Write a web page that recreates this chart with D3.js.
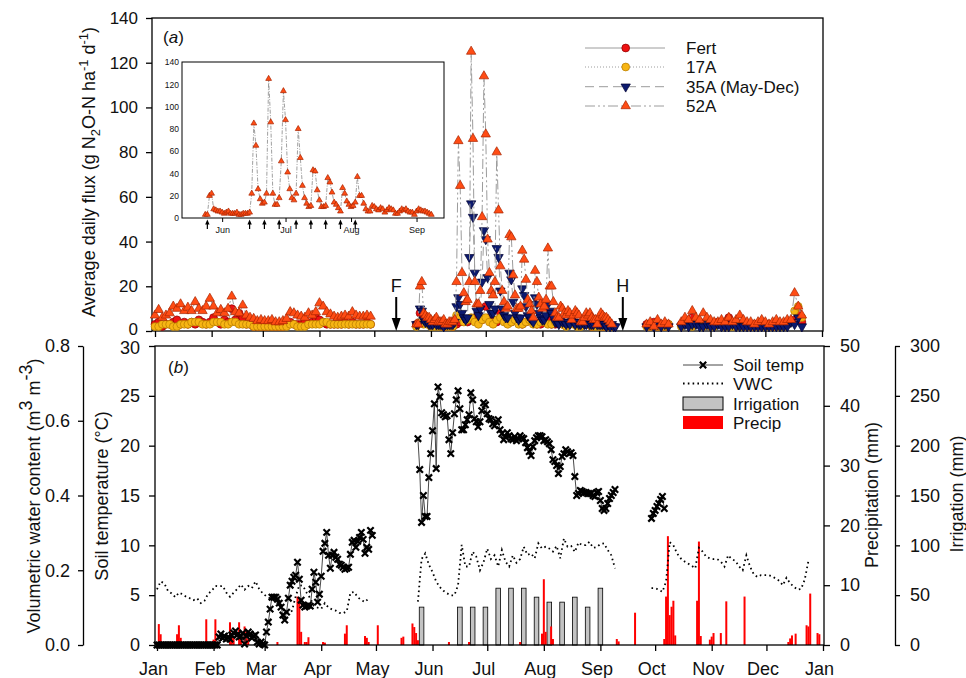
<!DOCTYPE html>
<html>
<head>
<meta charset="utf-8">
<script src="https://cdn.jsdelivr.net/npm/d3@7/dist/d3.min.js"></script>
<style>
body{margin:0;background:#fff;}
svg text{font-family:"Liberation Sans",Arial,sans-serif;fill:#111;}
</style>
</head>
<body>
<script>
// ---- data (days counted from 1 Jan 2013) ----
var fluxTicks = [0, 20, 40, 60, 80, 100, 120, 140];
var tempTicks = [0, 5, 10, 15, 20, 25, 30];
var vwcTicks = [0, 0.2, 0.4, 0.6, 0.8];
var precipTicks = [0, 10, 20, 30, 40, 50];
var irrTicks = [0, 50, 100, 150, 200, 250, 300];

var fert = [
  {start: 0, step: 2, v: [3,4,2,3,3,4,5,3,4,3,4,3,5,4,3,4,6,4,3,5,4,10,5,8,6,3,3,2,2,2,2,2,2,2,2,2,3,4,3,3,3,4,3,4,6,5,4,3,3,3,3,3,4,3,4,3,3,3,4,3]},
  {start: 143, step: 2, v: [3,8,6,4,3,3,3,2,2,3,2,3,4,5,4,5,6,7,5,11,6,5,4,8,5,4,4,5,4,3,4,5,4,3,3,4,5,3,3,4,3,3,3,4,3,3,3,3,2,3,3,2,3,2,2]},
  {start: 269, step: 2, v: [3,2,4,2,3,2,3]},
  {start: 288, step: 2, v: [3,4,4,6,3,4,3,4,3,3,4,3,4,6,3,4,3,3,3,2,3,3,4,3,3,2,3,3,3,3,4,5,8,4]}
];
var a17 = [
  {start: 0, step: 2, v: [2,2,3,3,3,2,2,3,3,3,4,4,4,3,3,3,4,4,4,3,3,4,4,3,3,3,3,2,2,2,2,2,2,2,2,2,2,3,3,2,2,2,3,3,3,3,4,4,3,3,3,3,3,3,3,3,3,3,3,3]},
  {start: 143, step: 2, v: [2,4,3,3,2,2,2,2,2,2,2,7,6,4,5,6,4,3,5,6,4,3,5,6,4,3,4,5,3,3,4,5,3,3,4,4,3,3,4,4,3,2,3,3,2,2,3,3,2,2,2,2,2,2,2]},
  {start: 269, step: 2, v: [2,2,3,2,2,2,3]},
  {start: 288, step: 2, v: [2,3,3,2,3,3,2,3,2,2,3,3,2,2,2,3,2,2,2,2,2,2,3,2,2,2,2,2,2,3,4,9,11,6]}
];
var a35 = [
  {start: 143, step: 1, v: [3,3,10,9,5,4,4,3,3,3,4,3,3,3,3,2,3,3,3,3,3,4,11,15,12,8,6,5,6,33,57,51,26,9,7,10,22,45,41,24,12,8,8,10,37,33,18,10,7,6,6,26,23,13,8,6,5,6,19,16,11,7,6,5,4,15,12,8,6,5,5,7,12,9,8,6,4,4,3,5,4,4,3,4,3,5,4,3,4,3,3,4,3,3,4,3,3,3,4,3,3,3,3,3,2,3,2,3,2,2]},
  {start: 269, step: 2, v: [2,3,2,3,2,3,2]},
  {start: 288, step: 2, v: [2,3,2,3,3,2,2,3,2,2,3,2,2,2,3,2,2,2,2,2,2,2,2,2,2,2,2,2,2,2,4,3,6,2]}
];
var a52 = [
  {start: 0, step: 2, v: [7,9.5,6,7,8,11,10,12,9,10.5,9,13,10,9,11,14.5,11,8,9.5,8,10,15.5,8.5,8,11.5,7,6,5.5,4.5,5,4.5,4.5,5,4,4,4.5,5.5,8.5,8,7,6.5,6,8,7,8.5,12.5,11,8.5,7.5,6.5,6,6.5,7,6.5,8.5,7,6.5,6.5,7,6.5]},
  {start: 143, step: 1, v: [3,3,20,22,8,7,6,6,5,4,5,6,4,4,4,5,3,3,4,4,4,5,22,85,65,26,17,13,14,22,125,86,22,12,12,18,51,114,88,41,26,18,16,22,80,54,29,18,13,10,11,43,42,25,16,10,10,11,36,32,23,14,12,9,6,27,22,15,12,10,11,14,37,20,20,13,8,6,6,11,10,8,7,9,8,5,7,9,8,7,4,4,6,8,7,8,6,5,5,3,6,8,7,6,6,5,4,3]},
  {start: 269, step: 2, v: [3,4,2,5,3,4,3]},
  {start: 288, step: 2, v: [4,6,5,9,6,5,8,6,5,4,4,5,4,6,4,5,7,5,4,4,3,4,5,4,3,4,5,4,4,5,5,17,11,7]}
];
var insetArrowDays = [144, 164, 171, 178, 186, 193, 200, 207, 214];
var fertDay = 132, harvestDay = 256;

var soilTemp = [
  {start: 0, step: 1, v: [0,0,0,0,0,0,0,0,0,0,0,0,0,0,0,0,0,0,0,0,0,0,0,0,0,0,0,0,0,0,0,0,0,0,0.8,1.1,0.7,0.9,0.6,0.8,0.6,1.0,1.2,1.4,1.0,0.8,0.9,1.2,0.1,0.9,1.3,1.1,0.7,0.9,1.0,0.3,0.1,0.3,0.1,0,1.3,2.3,3.6,4.8,4.8,4.8,4.6,4.2,3.8,3.0,2.5,3.3,4.7,6.0,6.4,6.8,7.0,8.3,6.6,4.5,4.0,3.8,3.9,4.0,3.9,5.6,7.3,6.3,4.3,5.1,6.9,9.4,10.2,11.3,9.0,7.7,9.0,9.3,8.8,8.6,8.1,8.0,7.8,7.6,7.7,7.8,9.1,10.3,10.5,9.8,10.4,10.8,11.3,10.6,9.2,9.8,9.6,11.5,11.0]},
  {start: 143, step: 1, v: [20.7,17.6,12.3,15.0,12.9,12.9,16.8,19.2,21.5,24.2,17.7,25.9,24.9,23.3,23.1,22.9,23.0,20.6,19.2,21.3,23.2,24.6,25.5,23.7,21.6,21.6,22.1,22.6,23.1,25.3,24.6,22.7,22.4,21.9,22.4,23.5,24.3,24.1,23.2,22.7,22.6,22.2,22.0,22.4,22.6,21.6,21.2,20.6,20.9,21.3,21.0,20.7,20.6,20.9,20.5,20.7,21.0,20.8,20.7,20.3,19.8,19.4,19.0,19.9,20.5,20.8,21.0,21.0,20.9,20.5,20.6,20.4,20.2,19.6,18.6,18.4,18.0,17.2,17.9,18.9,19.2,19.6,19.4,19.2,19.3,19.0,16.9,15.0,15.2,15.5,15.4,15.3,15.3,15.2,15.2,15.2,15.0,14.9,15.3,15.4,14.5,13.7,13.5,13.7,14.2,14.7,15.0,15.3,15.6]},
  {start: 271, step: 1, v: [12.7,13.2,13.5,13.9,14.2,14.6,14.9,13.7]}
];
var vwc = [
  {start: 0, step: 2, v: [0.149,0.170,0.165,0.145,0.138,0.128,0.140,0.136,0.129,0.125,0.120,0.125,0.112,0.118,0.137,0.145,0.158,0.157,0.158,0.140,0.129,0.140,0.150,0.162,0.148,0.158,0.152,0.170,0.150,0.138,0.130,0.125,0.120,0.112,0.100,0.090,0.085,0.092,0.130,0.160,0.158,0.140,0.125,0.105,0.100,0.097,0.112,0.100,0.095,0.092,0.086,0.085,0.090,0.140,0.142,0.128,0.120,0.115,0.125]},
  {start: 143, step: 2, v: [0.116,0.23,0.245,0.215,0.195,0.17,0.155,0.145,0.138,0.133,0.133,0.16,0.268,0.21,0.21,0.25,0.236,0.2,0.222,0.258,0.23,0.24,0.21,0.254,0.223,0.21,0.24,0.22,0.23,0.263,0.241,0.245,0.232,0.272,0.258,0.263,0.258,0.25,0.265,0.232,0.285,0.263,0.265,0.249,0.274,0.267,0.267,0.276,0.26,0.262,0.27,0.272,0.254,0.24,0.205]},
  {start: 271, step: 2, v: [0.152,0.152,0.148,0.142,0.17,0.275,0.267,0.245,0.232,0.224,0.218,0.212,0.205,0.26,0.25,0.236,0.232,0.23,0.23,0.223,0.21,0.24,0.23,0.225,0.21,0.2,0.24,0.21,0.19,0.182,0.187,0.187,0.187,0.184,0.178,0.172,0.16,0.18,0.165,0.156,0.148,0.15,0.175,0.225]}
];
var precipDays = [1,2,11,12,13,22,23,24,27,30,31,32,40,41,42,45,46,48,49,50,66,77,78,79,81,82,83,91,92,103,104,114,115,116,121,134,135,140,141,142,143,160,171,199,211,212,213,216,217,252,253,262,278,279,280,281,282,283,284,296,297,298,303,304,305,309,312,322,346,347,348,350,356,357,358,362,363];
var precipMM = [3.5,1.8,1.8,3.3,1.2,0.3,0.3,0.3,4.3,0.5,0.9,4.3,3.8,2.0,1.5,3.8,1.5,3.1,2.3,1.0,0.5,8.1,7.9,2.2,0.5,0.5,1.3,0.5,0.4,1.9,3.3,1.5,1.2,0.5,3.3,1.2,1.4,3.6,3.0,2.0,0.8,0.5,0.5,0.5,1.9,11.0,2.2,3.1,1.0,1.0,0.6,5.4,1.0,8.1,18.2,5.0,6.4,7.4,1.6,7.4,17.3,1.5,0.9,1.4,2.0,2.0,7.3,8.1,0.5,1.1,1.6,1.9,3.3,3.1,8.6,2.0,1.8];
var irrDays = [145,166,173,180,187,194,201,208,215,222,229,236,243];
var irrMM = [38,38,38,38,57,57,57,48,43,43,48,38,57];

// ---- setup ----
var W = 966, H = 678;
var FONT = 17;
function day(d){ return new Date(2013, 0, 1 + d); }
function pts(segs){
  return segs.map(function(s){
    return s.v.map(function(v, i){ return {date: day(s.start + i * s.step), v: v}; });
  });
}

var svg = d3.select("body").append("svg").attr("width", W).attr("height", H);
svg.append("rect").attr("width", W).attr("height", H).attr("fill", "#fff");

function styleAxis(g, size, keepDomain){
  if(!keepDomain) g.select(".domain").remove();
  g.select(".domain").attr("stroke", "#000").attr("stroke-width", 1.3);
  g.selectAll(".tick line").attr("stroke", "#000").attr("stroke-width", 1.3);
  g.selectAll(".tick text").attr("font-size", size);
  g.attr("font-size", size);
}

// ================= panel (a) =================
var xTop = d3.scaleTime().domain([day(0), day(365)]).range([155, 822]);
var yTop = d3.scaleLinear().domain([0, 140]).range([331, 18]);

var yAxA = svg.append("g").attr("transform", "translate(152,0)")
  .call(d3.axisLeft(yTop).tickValues(fluxTicks).tickSize(6).tickPadding(8).tickSizeOuter(0))
  .call(styleAxis, 17);
yAxA.selectAll(".tick text").filter(function(d){ return d === 0; }).attr("dy", "0.2em");
svg.append("g").attr("transform", "translate(0,331)")
  .call(d3.axisBottom(xTop).ticks(d3.timeMonth.every(1)).tickSize(6).tickFormat(""))
  .call(styleAxis, FONT);
svg.append("rect").attr("x", 152).attr("y", 18).attr("width", 671).attr("height", 313)
  .attr("fill", "none").attr("stroke", "#000").attr("stroke-width", 1.3);

var lineGrey = "#9c9c9c";
var series = [
  {name: "Fert", data: fert, shape: "circle", fill: "#ee1212", stroke: "#8a0000", dash: null},
  {name: "17A", data: a17, shape: "circle", fill: "#f7b514", stroke: "#b57a00", dash: "1,2"},
  {name: "35A (May-Dec)", data: a35, shape: "down", fill: "#0c1a6e", stroke: "#000030", dash: "9,5"},
  {name: "52A", data: a52, shape: "up", fill: "#ff4c14", stroke: "#a82400", dash: "10,3,2,3,2,3"}
];

function drawMarker(sel, s, scale){
  scale = scale || 1;
  if(s.shape === "circle"){
    sel.append("circle").attr("r", 3.9 * scale);
  } else {
    sel.append("path").attr("d", d3.symbol().type(d3.symbolTriangle).size(38 * scale * scale))
      .attr("transform", s.shape === "down" ? "rotate(180)" : null);
  }
  sel.selectAll("circle,path").attr("fill", s.fill).attr("stroke", s.stroke).attr("stroke-width", 0.7);
}

var topLine = d3.line().x(function(d){ return xTop(d.date); }).y(function(d){ return yTop(d.v); });
series.forEach(function(s){
  var segs = pts(s.data);
  var g = svg.append("g");
  g.selectAll("path.ln").data(segs).enter().append("path").attr("class", "ln")
    .attr("d", topLine).attr("fill", "none").attr("stroke", lineGrey).attr("stroke-width", 1)
    .attr("stroke-dasharray", s.dash);
  g.selectAll("g.mk").data([].concat.apply([], segs)).enter().append("g").attr("class", "mk")
    .attr("transform", function(d){ return "translate(" + xTop(d.date) + "," + yTop(d.v) + ")"; })
    .each(function(){ drawMarker(d3.select(this), s); });
});

// F and H arrows
[[fertDay, "F"], [harvestDay, "H"]].forEach(function(a){
  var x = xTop(day(a[0]));
  svg.append("line").attr("x1", x).attr("x2", x).attr("y1", 297).attr("y2", 320)
    .attr("stroke", "#000").attr("stroke-width", 2);
  svg.append("path").attr("d", "M" + (x - 4.5) + ",318L" + x + ",331L" + (x + 4.5) + ",318Z").attr("fill", "#000");
  svg.append("text").attr("x", x).attr("y", 292).attr("text-anchor", "middle").attr("font-size", 18).text(a[1]);
});

// (a) label
var la = svg.append("text").attr("x", 163).attr("y", 43).attr("font-size", FONT);
la.append("tspan").text("(");
la.append("tspan").attr("font-style", "italic").text("a");
la.append("tspan").text(")");

// legend (a)
var legA = svg.append("g");
series.forEach(function(s, i){
  var y = [48, 67, 86.7, 106][i];
  legA.append("line").attr("x1", 585).attr("x2", 665).attr("y1", y).attr("y2", y)
    .attr("stroke", lineGrey).attr("stroke-width", 1).attr("stroke-dasharray", s.dash);
  var m = legA.append("g").attr("transform", "translate(625.7," + y + ")");
  drawMarker(m, s);
  legA.append("text").attr("x", 686).attr("y", y + 6).attr("font-size", FONT).text(s.name);
});

// y label (a)
var yla = svg.append("text").attr("transform", "translate(95,172) rotate(-90)")
  .attr("text-anchor", "middle").attr("font-size", 18);
yla.append("tspan").text("Average daily flux (g N");
yla.append("tspan").attr("dy", 5).attr("font-size", 13).text("2");
yla.append("tspan").attr("dy", -5).text("O-N ha");
yla.append("tspan").attr("dy", -7).attr("font-size", 13).text("-1");
yla.append("tspan").attr("dy", 7).text(" d");
yla.append("tspan").attr("dy", -7).attr("font-size", 13).text("-1");
yla.append("tspan").attr("dy", 7).text(")");

// ---- inset ----
var xIn = d3.scaleTime().domain([day(132.3), day(256.5)]).range([182, 444]);
var yIn = d3.scaleLinear().domain([0, 140]).range([218, 62]);
var inset = svg.append("g");
inset.append("rect").attr("x", 182).attr("y", 62).attr("width", 262).attr("height", 156)
  .attr("fill", "#fff").attr("stroke", "#000").attr("stroke-width", 1);
inset.append("g").attr("transform", "translate(182,0)")
  .call(d3.axisLeft(yIn).tickValues(fluxTicks).tickSize(0).tickPadding(3))
  .call(styleAxis, 8.5);
inset.append("g").attr("transform", "translate(0,218)")
  .call(d3.axisBottom(xIn).ticks(d3.timeMonth.every(1)).tickSize(4).tickPadding(5).tickFormat(d3.timeFormat("%b")))
  .call(styleAxis, 9);
inset.selectAll(".tick line").attr("stroke-width", 1);
var inSeg = pts([a52[1]])[0];
inset.append("path").datum(inSeg)
  .attr("d", d3.line().x(function(d){ return xIn(d.date); }).y(function(d){ return yIn(d.v); }))
  .attr("fill", "none").attr("stroke", "#888").attr("stroke-width", 0.8).attr("stroke-dasharray", "4,1.5,1,1.5");
inset.selectAll("g.im").data(inSeg).enter().append("g")
  .attr("transform", function(d){ return "translate(" + xIn(d.date) + "," + yIn(d.v) + ")"; })
  .each(function(){ drawMarker(d3.select(this), series[3], 0.62); });
insetArrowDays.forEach(function(dd){
  var x = xIn(day(dd));
  inset.append("line").attr("x1", x).attr("x2", x).attr("y1", 229).attr("y2", 223)
    .attr("stroke", "#000").attr("stroke-width", 1.2);
  inset.append("path").attr("d", "M" + (x - 2.2) + ",224.5L" + x + ",219.5L" + (x + 2.2) + ",224.5Z").attr("fill", "#000");
});

// ================= panel (b) =================
var xBot = d3.scaleTime().domain([day(0), day(365)]).range([157, 823]);
var yTemp = d3.scaleLinear().domain([0, 30]).range([645, 346]);
var yVwc = d3.scaleLinear().domain([0, 0.8]).range([645, 346]);
var yPre = d3.scaleLinear().domain([0, 50]).range([645, 346]);
var yIrr = d3.scaleLinear().domain([0, 300]).range([645, 346]);

// irrigation bars
svg.append("g").selectAll("rect").data(irrDays).enter().append("rect")
  .attr("x", function(d){ return xBot(day(d)) - 2.3; })
  .attr("width", 4.6)
  .attr("y", function(d, i){ return yIrr(irrMM[i]); })
  .attr("height", function(d, i){ return yIrr(0) - yIrr(irrMM[i]); })
  .attr("fill", "#c3c3c3").attr("stroke", "#000").attr("stroke-width", 0.8);

// precipitation bars
svg.append("g").selectAll("rect").data(precipDays).enter().append("rect")
  .attr("x", function(d){ return xBot(day(d)) - 1; })
  .attr("width", 2)
  .attr("y", function(d, i){ return yPre(precipMM[i]); })
  .attr("height", function(d, i){ return yPre(0) - yPre(precipMM[i]); })
  .attr("fill", "#ff0000");

// VWC dotted line
var vwcLine = d3.line().x(function(d){ return xBot(d.date); }).y(function(d){ return yVwc(d.v); });
svg.append("g").selectAll("path").data(pts(vwc)).enter().append("path")
  .attr("d", vwcLine).attr("fill", "none").attr("stroke", "#000")
  .attr("stroke-width", 1.8).attr("stroke-dasharray", "1.6,3.2");

// soil temperature
var tSegs = pts(soilTemp);
var tLine = d3.line().x(function(d){ return xBot(d.date); }).y(function(d){ return yTemp(d.v); });
svg.append("g").selectAll("path").data(tSegs).enter().append("path")
  .attr("d", tLine).attr("fill", "none").attr("stroke", "#333").attr("stroke-width", 0.9);
var xMark = "M-3.2,-3.2L3.2,3.2M-3.2,3.2L3.2,-3.2";
svg.append("g").selectAll("path").data([].concat.apply([], tSegs)).enter().append("path")
  .attr("transform", function(d){ return "translate(" + xBot(d.date) + "," + yTemp(d.v) + ")"; })
  .attr("d", xMark).attr("stroke", "#000").attr("stroke-width", 2.2).attr("fill", "none");

// frame and axes (b)
svg.append("rect").attr("x", 155).attr("y", 346).attr("width", 669).attr("height", 299)
  .attr("fill", "none").attr("stroke", "#000").attr("stroke-width", 1.3);
var xb = svg.append("g").attr("transform", "translate(0,645)")
  .call(d3.axisBottom(xBot).ticks(d3.timeMonth.every(1)).tickSize(6).tickPadding(11).tickFormat(d3.timeFormat("%b")))
  .call(styleAxis, 18);
xb.selectAll(".tick text").attr("dx", -4);
var tAx = svg.append("g").attr("transform", "translate(155,0)")
  .call(d3.axisLeft(yTemp).tickValues(tempTicks).tickSize(6).tickPadding(9).tickSizeOuter(0))
  .call(styleAxis, 18);
tAx.selectAll(".tick text").filter(function(d){ return d === 30; }).attr("dy", "0.42em");
svg.append("g").attr("transform", "translate(83,0)")
  .call(d3.axisLeft(yVwc).tickValues(vwcTicks).tickFormat(d3.format(".1f")).tickSize(5).tickPadding(8).tickSizeOuter(0))
  .call(styleAxis, 18, true);
svg.append("g").attr("transform", "translate(824,0)")
  .call(d3.axisRight(yPre).tickValues(precipTicks).tickSize(6).tickPadding(10).tickSizeOuter(0))
  .call(styleAxis, 18);
svg.append("g").attr("transform", "translate(895,0)")
  .call(d3.axisRight(yIrr).tickValues(irrTicks).tickSize(5).tickPadding(10).tickSizeOuter(0))
  .call(styleAxis, 18, true);

// (b) label
var lb = svg.append("text").attr("x", 168).attr("y", 373).attr("font-size", FONT);
lb.append("tspan").text("(");
lb.append("tspan").attr("font-style", "italic").text("b");
lb.append("tspan").text(")");

// axis titles (b)
var yv = svg.append("text").attr("transform", "translate(40,496) rotate(-90)")
  .attr("text-anchor", "middle").attr("font-size", 18);
yv.append("tspan").text("Volumetric water content (m");
yv.append("tspan").attr("dy", -8).text("3");
yv.append("tspan").attr("dy", 8).text(" m");
yv.append("tspan").attr("dy", -8).text("-3");
yv.append("tspan").attr("dy", 8).text(")");
svg.append("text").attr("transform", "translate(108,496) rotate(-90)")
  .attr("text-anchor", "middle").attr("font-size", 18).text("Soil temperature (\u00B0C)");
svg.append("text").attr("transform", "translate(878,495) rotate(-90)")
  .attr("text-anchor", "middle").attr("font-size", 18).text("Precipitation (mm)");
svg.append("text").attr("transform", "translate(963,494) rotate(-90)")
  .attr("text-anchor", "middle").attr("font-size", 18).text("Irrigation (mm)");

// legend (b)
var legB = svg.append("g");
legB.append("line").attr("x1", 683).attr("x2", 723).attr("y1", 365).attr("y2", 365).attr("stroke", "#333").attr("stroke-width", 0.9);
legB.append("path").attr("transform", "translate(703,365)").attr("d", xMark).attr("stroke", "#000").attr("stroke-width", 2.2);
legB.append("line").attr("x1", 683).attr("x2", 723).attr("y1", 383.5).attr("y2", 383.5)
  .attr("stroke", "#000").attr("stroke-width", 1.8).attr("stroke-dasharray", "1.6,3.2");
legB.append("rect").attr("x", 683).attr("y", 397).attr("width", 40).attr("height", 13)
  .attr("fill", "#c3c3c3").attr("stroke", "#000").attr("stroke-width", 1);
legB.append("rect").attr("x", 683).attr("y", 416).attr("width", 40).attr("height", 13).attr("fill", "#ff0000");
["Soil temp", "VWC", "Irrigation", "Precip"].forEach(function(t, i){
  legB.append("text").attr("x", 733).attr("y", [371, 390, 409.5, 429][i]).attr("font-size", FONT).text(t);
});
</script>
</body>
</html>
